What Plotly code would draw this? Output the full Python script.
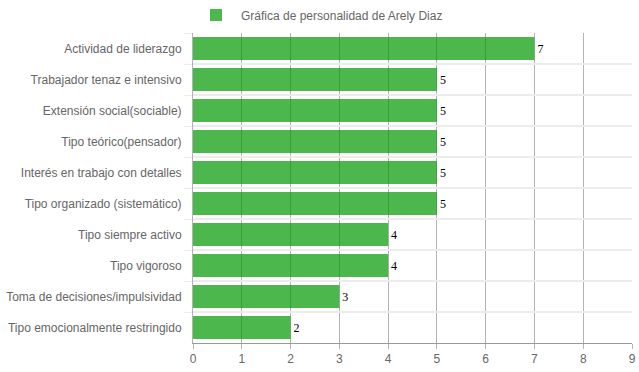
import plotly.graph_objects as go

categories = [
    "Actividad de liderazgo",
    "Trabajador tenaz e intensivo",
    "Extensión social(sociable)",
    "Tipo teórico(pensador)",
    "Interés en trabajo con detalles",
    "Tipo organizado (sistemático)",
    "Tipo siempre activo",
    "Tipo vigoroso",
    "Toma de decisiones/impulsividad",
    "Tipo emocionalmente restringido",
]
values = [7, 5, 5, 5, 5, 5, 4, 4, 3, 2]
series_name = "Gráfica de personalidad de Arely Diaz"
x_ticks = list(range(0, 10))

fig = go.Figure()
fig.add_trace(go.Bar(
    x=values,
    y=categories,
    orientation="h",
    name=series_name,
    marker=dict(color="rgba(0,153,0,0.7)", line=dict(width=0)),
    width=0.74,
    text=[str(v) for v in values],
    textposition="outside",
    textfont=dict(family="Liberation Serif", size=12, color="#000"),
    cliponaxis=False,
    showlegend=True,
))

fig.update_layout(
    width=639, height=372,
    margin=dict(l=193, r=7, t=33, b=29, autoexpand=False),
    paper_bgcolor="white", plot_bgcolor="white",
    font=dict(family="Liberation Sans, Arial", size=12, color="#666"),
    showlegend=True,
    legend=dict(orientation="h", xref="container", yref="container",
                x=0.5, xanchor="center", y=1 - 15 / 372, yanchor="middle",
                font=dict(size=12, color="#666"), itemwidth=40),
    bargap=0.26,
)
fig.update_xaxes(
    range=[0, 9], tickvals=x_ticks, showgrid=True, gridcolor="#b3b3b3", gridwidth=1,
    zeroline=False, showline=True, linecolor="#999", linewidth=1,
    ticks="outside", ticklen=5, tickcolor="#b3b3b3", automargin=False,
    tickfont=dict(size=12, color="#666"),
)
fig.update_yaxes(
    categoryorder="array", categoryarray=categories, autorange="reversed",
    tickson="boundaries", showgrid=True, gridcolor="#ececec", gridwidth=1.5,
    ticks="outside", ticklen=8, tickcolor="#ececec", automargin=False,
    ticklabelstandoff=8,
    showline=True, linecolor="#b3b3b3", linewidth=1,
    tickfont=dict(size=12, color="#666"),
)
fig.write_html("out.html",
               config={"displayModeBar": False},
               post_script="document.body.style.margin='0';document.body.style.overflow='hidden';")
